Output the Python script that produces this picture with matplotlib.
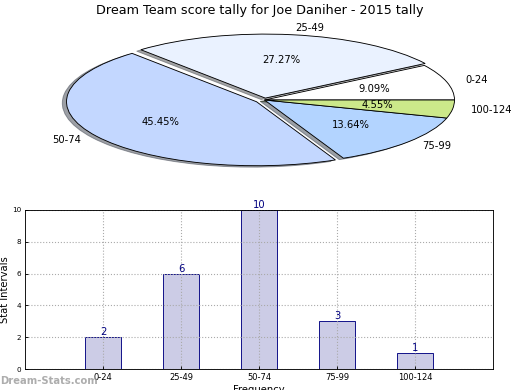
import matplotlib
matplotlib.use('Agg')
import matplotlib.pyplot as plt

categories = ['0-24', '25-49', '50-74', '75-99', '100-124']
counts = [2, 6, 10, 3, 1]
pie_colors = ['#FFFFFF', '#EAF2FF', '#C3D7FF', '#B3D4FF', '#CCE88A']

fig = plt.figure(figsize=(6.5, 4.875), dpi=80)

# pie
ax1 = fig.add_axes([27 / 520, 210 / 390, 475 / 520, 160 / 390])
ax1.pie(counts, labels=categories, colors=pie_colors, autopct='%.2f%%',
        explode=[0.0, 0.03, 0.05, 0.0, 0.0], shadow=True, startangle=0,
        wedgeprops={'edgecolor': 'black', 'linewidth': 0.8},
        textprops={'fontsize': 9})
ax1.set_aspect('auto')
ax1.set_xlim(-1.25, 1.25)
ax1.set_ylim(-1.25, 1.25)
fig.text(0.5, 0.99, 'Dream Team score tally for Joe Daniher - 2015 tally',
         ha='center', va='top', fontsize=11.5)

# bars
ax2 = fig.add_axes([25 / 520, 21 / 390, 468 / 520, 159 / 390])
x = range(len(categories))
bars = ax2.bar(x, counts, width=0.46, color='#CCCCE6', edgecolor='navy', linewidth=0.8)
for b, v in zip(bars, counts):
    ax2.text(b.get_x() + b.get_width() / 2, v, str(v), ha='center', va='bottom',
             color='navy', fontsize=9)
ax2.set_xlim(-1, 5)
ax2.set_ylim(0, 10)
ax2.set_xticks(list(x))
ax2.set_xticklabels(categories)
ax2.set_yticks(range(0, 11, 2))
ax2.tick_params(axis='x', labelsize=7.5, direction='in', length=3)
ax2.tick_params(axis='y', labelsize=6.5, direction='in', length=3)
ax2.grid(True, linestyle=':', color='#aaaaaa', linewidth=1)
ax2.set_ylabel('Stat Intervals', fontsize=9, labelpad=2)
ax2.set_xlabel('Frequency', fontsize=9, labelpad=3)

fig.text(0.0, 0.01, 'Dream-Stats.com', color='#999999', fontsize=9,
         ha='left', va='bottom', fontweight='bold', alpha=0.8)

fig.savefig('out.png', dpi=80)
